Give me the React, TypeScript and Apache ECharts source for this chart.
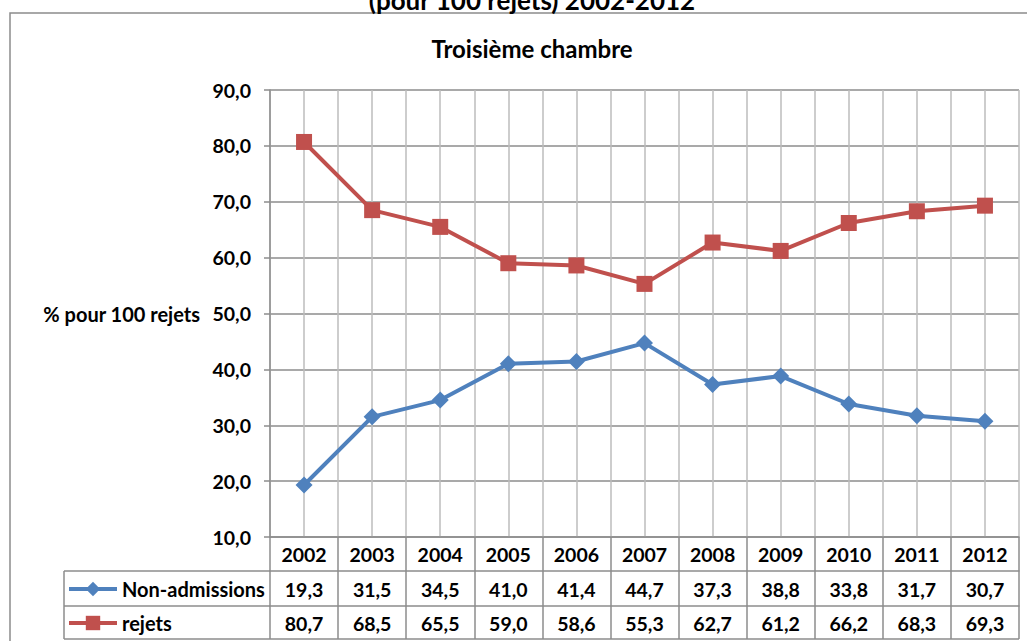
import React, { useEffect, useRef } from "react";
import * as echarts from "echarts";

const years = ["2002", "2003", "2004", "2005", "2006", "2007", "2008", "2009", "2010", "2011", "2012"];
const nonAdmissions = [19.3, 31.5, 34.5, 41.0, 41.4, 44.7, 37.3, 38.8, 33.8, 31.7, 30.7];
const rejets = [80.7, 68.5, 65.5, 59.0, 58.6, 55.3, 62.7, 61.2, 66.2, 68.3, 69.3];
const yTicks = { min: 10, max: 90, interval: 10 };

const FONT = "Lato, 'Liberation Sans', sans-serif";
const fmt = (v: number) => v.toFixed(1).replace(".", ",");

const GRID = { left: 270, right: 8, top: 90, bottom: 104 };
const W = 1027;
const H = 641;

export default function App() {
  const ref = useRef<HTMLDivElement>(null);
  useEffect(() => {
    if (!ref.current) return;
    const chart = echarts.init(ref.current, null, { renderer: "svg" });
    const axisBottomY = H - GRID.bottom;
    const row1Y = axisBottomY + 34;
    const row2Y = axisBottomY + 69;
    const tableBottom = axisBottomY + 102;
    const plotRight = W - GRID.right;
    const tableColor = "#8c8c8c";
    const lineStyle = { stroke: tableColor, lineWidth: 1.5 };
    const labelStyle = { fontFamily: FONT, fontWeight: "bold" as const, fontSize: 20, color: "#000" };
    const numStyle = { ...labelStyle, fontSize: 19.5 };

    chart.setOption({
      animation: false,
      backgroundColor: "#fff",
      textStyle: { fontFamily: FONT },
      title: [
        {
          text: "(pour 100 rejets) 2002-2012",
          left: 527,
          textAlign: "center",
          top: -18,
          textStyle: { fontFamily: FONT, fontWeight: "bold", fontSize: 26, color: "#000" },
        },
        {
          text: "Troisième chambre",
          left: 527,
          textAlign: "center",
          top: 31,
          textStyle: { fontFamily: FONT, fontWeight: "bold", fontSize: 24, color: "#000" },
        },
      ],
      legend: [
        {
          data: ["Non-admissions"],
          left: 62,
          top: row1Y + 3,
          itemWidth: 48,
          itemHeight: 18,
          lineStyle: { width: 4 },
          textStyle: labelStyle,
        },
        {
          data: ["rejets"],
          left: 62,
          top: row2Y + 2,
          itemWidth: 48,
          itemHeight: 18,
          lineStyle: { width: 4 },
          textStyle: labelStyle,
        },
      ],
      grid: { ...GRID, containLabel: false },
      xAxis: [
        {
          type: "category",
          data: years,
          position: "bottom",
          boundaryGap: true,
          axisLine: { show: true, lineStyle: { color: tableColor, width: 1.5 } },
          axisTick: { show: true, length: 34, lineStyle: { color: tableColor, width: 1.5 } },
          axisLabel: { ...numStyle, margin: 7 },
          splitLine: { show: false },
        },
        {
          type: "category",
          data: nonAdmissions.map(fmt),
          position: "bottom",
          offset: 34,
          boundaryGap: true,
          axisLine: { show: true, lineStyle: { color: tableColor, width: 1.5 } },
          axisTick: { show: true, length: 35, lineStyle: { color: tableColor, width: 1.5 } },
          axisLabel: { ...numStyle, margin: 8 },
          splitLine: { show: false },
        },
        {
          type: "category",
          data: rejets.map(fmt),
          position: "bottom",
          offset: 69,
          boundaryGap: true,
          axisLine: { show: true, lineStyle: { color: tableColor, width: 1.5 } },
          axisTick: { show: true, length: 33, lineStyle: { color: tableColor, width: 1.5 } },
          axisLabel: { ...numStyle, margin: 7 },
          splitLine: { show: false },
        },
        {
          type: "value",
          position: "top",
          min: 0,
          max: years.length * 2,
          interval: 1,
          axisLine: { show: false },
          axisTick: { show: false },
          axisLabel: { show: false },
          splitLine: { show: true, lineStyle: { color: "#bdbdbd", width: 1.5 } },
        },
      ],
      yAxis: {
        type: "value",
        min: yTicks.min,
        max: yTicks.max,
        interval: yTicks.interval,
        name: "% pour 100 rejets",
        nameLocation: "middle",
        nameRotate: 0,
        nameGap: 70,
        nameTextStyle: { ...labelStyle, align: "right", verticalAlign: "middle" },
        axisLine: { show: true, lineStyle: { color: tableColor, width: 1.5 } },
        axisTick: { show: true, length: 6, lineStyle: { color: tableColor, width: 1.5 } },
        axisLabel: { ...numStyle, margin: 19, formatter: (v: number) => fmt(v) },
        splitLine: { show: true, lineStyle: { color: "#8c8c8c", width: 1.5 } },
      },
      series: [
        {
          name: "Non-admissions",
          type: "line",
          data: nonAdmissions,
          xAxisIndex: 0,
          symbol: "diamond",
          symbolSize: 17,
          lineStyle: { color: "#4F81BD", width: 4 },
          itemStyle: { color: "#4F81BD" },
          z: 3,
        },
        {
          name: "rejets",
          type: "line",
          data: rejets,
          xAxisIndex: 0,
          symbol: "rect",
          symbolSize: 16,
          lineStyle: { color: "#C0504D", width: 4 },
          itemStyle: { color: "#C0504D" },
          z: 3,
        },
      ],
      graphic: [
        { type: "rect", shape: { x: 10, y: 13, width: W + 20, height: H + 20 }, style: { fill: "none", stroke: tableColor, lineWidth: 1.5 }, silent: true, z: -1 },
        { type: "line", shape: { x1: 64, y1: row1Y, x2: GRID.left, y2: row1Y }, style: lineStyle },
        { type: "line", shape: { x1: 64, y1: row2Y, x2: GRID.left, y2: row2Y }, style: lineStyle },
        { type: "line", shape: { x1: 64, y1: tableBottom, x2: plotRight, y2: tableBottom }, style: lineStyle },
        { type: "line", shape: { x1: 64, y1: row1Y, x2: 64, y2: tableBottom }, style: lineStyle },
      ],
    });
    return () => chart.dispose();
  }, []);
  return (
    <div
      ref={ref}
      style={{ position: "fixed", left: 0, top: 0, width: W, height: H, background: "#fff" }}
    />
  );
}
